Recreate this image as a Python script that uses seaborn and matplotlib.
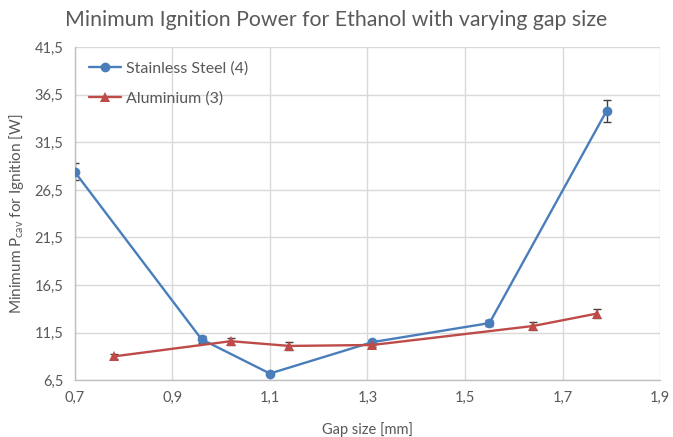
import matplotlib
matplotlib.use("Agg")
import matplotlib.pyplot as plt
import seaborn as sns
import pandas as pd

# donnees
steel_gap = [0.70, 0.96, 1.10, 1.31, 1.55, 1.79]
steel_power = [28.4, 10.8, 7.2, 10.5, 12.5, 34.8]
steel_err = [0.9, 0.35, 0.2, 0.25, 0.35, 1.15]

alu_gap = [0.78, 1.02, 1.14, 1.31, 1.64, 1.77]
alu_power = [9.0, 10.6, 10.1, 10.2, 12.2, 13.5]
alu_err = [0.3, 0.35, 0.4, 0.25, 0.45, 0.45]

x_ticks = [0.7, 0.9, 1.1, 1.3, 1.5, 1.7, 1.9]
y_ticks = [6.5, 11.5, 16.5, 21.5, 26.5, 31.5, 36.5, 41.5]

sns.set_theme(style="whitegrid")
plt.rcParams["font.family"] = ["Lato", "DejaVu Sans"]
plt.rcParams["mathtext.default"] = "regular"

grey_txt = "#595959"
blue = "#4a7ebb"
red = "#be4b48"

df_steel = pd.DataFrame({"gap": steel_gap, "power": steel_power})
df_alu = pd.DataFrame({"gap": alu_gap, "power": alu_power})

fig = plt.figure(figsize=(6.73, 4.37), dpi=100)
ax = fig.add_axes([0.111, 0.130, 0.870, 0.762])

ax.errorbar(steel_gap, steel_power, yerr=steel_err, fmt="none",
            ecolor="#404040", elinewidth=1, capsize=3, capthick=1, zorder=2)
ax.errorbar(alu_gap, alu_power, yerr=alu_err, fmt="none",
            ecolor="#404040", elinewidth=1, capsize=3, capthick=1, zorder=2)

sns.lineplot(data=df_steel, x="gap", y="power", ax=ax, color=blue,
             marker="o", markersize=7, markeredgewidth=0, linewidth=1.7,
             label="Stainless Steel (4)", zorder=3)
sns.lineplot(data=df_alu, x="gap", y="power", ax=ax, color=red,
             marker="^", markersize=7, markeredgewidth=0, linewidth=1.7,
             label="Aluminium (3)", zorder=3)

ax.set_xlim(0.7, 1.9)
ax.set_ylim(6.5, 41.5)
ax.set_xticks(x_ticks)
ax.set_yticks(y_ticks)
ax.set_xticklabels([f"{v:.1f}".replace(".", ",") for v in x_ticks])
ax.set_yticklabels([f"{v:.1f}".replace(".", ",") for v in y_ticks])
ax.tick_params(colors=grey_txt, labelsize=10.5, length=0, pad=8)

ax.grid(True, color="#d9d9d9", linewidth=1)
for side, sp in ax.spines.items():
    sp.set_visible(side in ("left", "bottom"))
    sp.set_color("#bfbfbf")
    sp.set_linewidth(1)

ax.set_xlabel("Gap size [mm]", color=grey_txt, fontsize=10.5, labelpad=12)
ax.set_ylabel("Minimum P$_{cav}$ for Ignition [W]", color=grey_txt,
              fontsize=11, labelpad=6)
fig.suptitle("Minimum Ignition Power for Ethanol with varying gap size",
             color=grey_txt, fontsize=15.3, x=0.5, y=0.978)

leg = ax.legend(loc="upper left", frameon=False, fontsize=11.5,
                handlelength=2.0, handletextpad=0.3, borderaxespad=0.5,
                labelspacing=0.95)
for t in leg.get_texts():
    t.set_color(grey_txt)

fig.savefig("out.png", dpi=100)
